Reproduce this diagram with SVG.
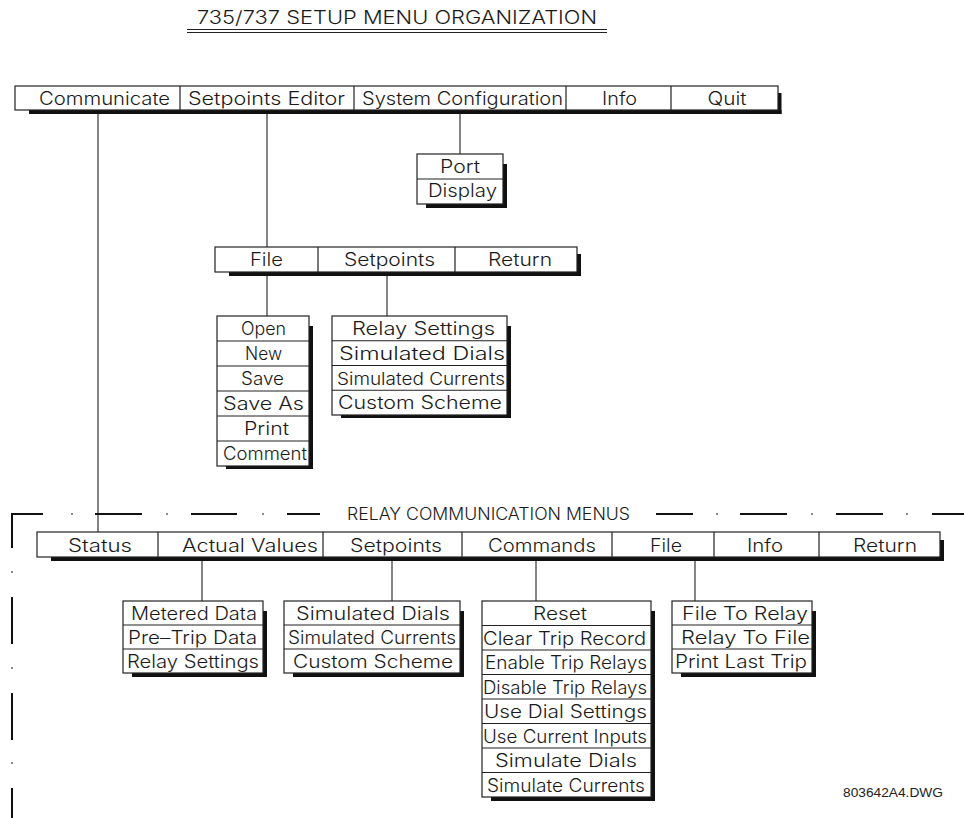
<svg xmlns="http://www.w3.org/2000/svg" width="964" height="818" viewBox="0 0 964 818">
<style>
.bx{fill:#fff;stroke:#222;stroke-width:1.2}
.dv{stroke:#222;stroke-width:1.2;fill:none}
.sh{fill:#111}
.cn{stroke:#333;stroke-width:1.2;fill:none}
.fr{stroke:#111;stroke-width:2;fill:none}
.t{font-family:Inter,"DejaVu Sans",sans-serif;font-weight:300;font-size:18px;fill:#1a1a1a;text-anchor:middle}
.ti{font-family:Inter,"DejaVu Sans",sans-serif;font-weight:300;font-size:18px;fill:#1a1a1a}
.sm{font-family:"Liberation Sans",Arial,sans-serif;font-size:12px;fill:#222}
</style>
<rect width="964" height="818" fill="#fff"/>
<g id="title">
<text class="ti" x="197" y="24" textLength="400" lengthAdjust="spacingAndGlyphs">735/737 SETUP MENU ORGANIZATION</text>
<line class="dv" x1="187" y1="29.5" x2="607" y2="29.5"/>
<line class="dv" x1="187" y1="32.5" x2="607" y2="32.5"/>
</g>
<g id="connectors">
<line class="cn" x1="98" y1="110" x2="98" y2="532"/>
<line class="cn" x1="267" y1="110" x2="267" y2="247"/>
<line class="cn" x1="460" y1="110" x2="460" y2="154"/>
<line class="cn" x1="267" y1="272" x2="267" y2="316"/>
<line class="cn" x1="387" y1="272" x2="387" y2="316"/>
<line class="cn" x1="202" y1="557" x2="202" y2="601"/>
<line class="cn" x1="392" y1="557" x2="392" y2="601"/>
<line class="cn" x1="536" y1="557" x2="536" y2="601"/>
<line class="cn" x1="695" y1="557" x2="695" y2="601"/>
</g>
<g id="main-menu">
<rect class="sh" x="778" y="93" width="3.5" height="21"/>
<rect class="sh" x="29" y="110" width="752.5" height="4"/>
<rect class="bx" x="15" y="86" width="763" height="24"/>
<path class="dv" d="M180 86V110M354 86V110M566 86V110M671 86V110"/>
<text class="t" x="104.5" y="105" textLength="131" lengthAdjust="spacingAndGlyphs">Communicate</text>
<text class="t" x="266.5" y="105" textLength="157" lengthAdjust="spacingAndGlyphs">Setpoints Editor</text>
<text class="t" x="462.5" y="105" textLength="201" lengthAdjust="spacingAndGlyphs">System Configuration</text>
<text class="t" x="619.5" y="105" textLength="35" lengthAdjust="spacingAndGlyphs">Info</text>
<text class="t" x="727" y="105" textLength="39" lengthAdjust="spacingAndGlyphs">Quit</text>
</g>
<g id="sysconfig-menu">
<rect class="sh" x="503" y="164" width="4" height="44"/>
<rect class="sh" x="426" y="204" width="81" height="4"/>
<rect class="bx" x="417" y="154" width="86" height="50"/>
<path class="dv" d="M417 179H503"/>
<text class="t" x="460" y="173" textLength="40" lengthAdjust="spacingAndGlyphs">Port</text>
<text class="t" x="462.5" y="197" textLength="69" lengthAdjust="spacingAndGlyphs">Display</text>
</g>
<g id="editor-menu">
<rect class="sh" x="577" y="254" width="4" height="22"/>
<rect class="sh" x="229" y="272" width="352" height="4"/>
<rect class="bx" x="215" y="247" width="362" height="25"/>
<path class="dv" d="M318 247V272M455 247V272"/>
<text class="t" x="266.5" y="266" textLength="33" lengthAdjust="spacingAndGlyphs">File</text>
<text class="t" x="389.5" y="266" textLength="91" lengthAdjust="spacingAndGlyphs">Setpoints</text>
<text class="t" x="520" y="266" textLength="64" lengthAdjust="spacingAndGlyphs">Return</text>
</g>
<g id="file-menu">
<rect class="sh" x="309" y="326" width="4" height="143"/>
<rect class="sh" x="226" y="466" width="87" height="3"/>
<rect class="bx" x="217" y="316" width="92" height="150"/>
<path class="dv" d="M217 341H309M217 366H309M217 391H309M217 416H309M217 441H309"/>
<text class="t" x="263.5" y="335" textLength="45" lengthAdjust="spacingAndGlyphs">Open</text>
<text class="t" x="263.5" y="360" textLength="37" lengthAdjust="spacingAndGlyphs">New</text>
<text class="t" x="262.5" y="385" textLength="43" lengthAdjust="spacingAndGlyphs">Save</text>
<text class="t" x="263.5" y="410" textLength="81" lengthAdjust="spacingAndGlyphs">Save As</text>
<text class="t" x="266.5" y="435" textLength="45" lengthAdjust="spacingAndGlyphs">Print</text>
<text class="t" x="265" y="460" textLength="84" lengthAdjust="spacingAndGlyphs">Comment</text>
</g>
<g id="setpoints-menu">
<rect class="sh" x="507" y="326" width="4" height="92"/>
<rect class="sh" x="341" y="415" width="170" height="3"/>
<rect class="bx" x="332" y="316" width="175" height="99"/>
<path class="dv" d="M332 340.75H507M332 365.5H507M332 390.25H507"/>
<text class="t" x="423.5" y="335" textLength="143" lengthAdjust="spacingAndGlyphs">Relay Settings</text>
<text class="t" x="422" y="360" textLength="166" lengthAdjust="spacingAndGlyphs">Simulated Dials</text>
<text class="t" x="421" y="384.5" textLength="168" lengthAdjust="spacingAndGlyphs" style="font-size:17px">Simulated Currents</text>
<text class="t" x="420" y="409" textLength="164" lengthAdjust="spacingAndGlyphs">Custom Scheme</text>
</g>
<g id="relay-frame">
<path class="fr" d="M12 548V514H43M95 514H142M191 514H237M287 514H320M656 514H693M740 514H787M836 514H883M932 514H964M12 597V644M12 693V740M12 788V818"/>
<path class="fr" style="stroke-width:1.5;stroke:#666" d="M71 514H73M166 514H168M262 514H264M716 514H718M811 514H813M906 514H908M12 571V573M12 667V669M12 762V764"/>
<text class="ti" x="347" y="520" textLength="283" lengthAdjust="spacingAndGlyphs" style="font-size:17px">RELAY COMMUNICATION MENUS</text>
</g>
<g id="relay-menu">
<rect class="sh" x="940" y="540" width="4" height="21"/>
<rect class="sh" x="51" y="557" width="893" height="4"/>
<rect class="bx" x="37" y="532" width="903" height="25"/>
<path class="dv" d="M158 532V557M323 532V557M462 532V557M612 532V557M714 532V557M819 532V557"/>
<text class="t" x="100" y="552" textLength="64" lengthAdjust="spacingAndGlyphs">Status</text>
<text class="t" x="250" y="552" textLength="136" lengthAdjust="spacingAndGlyphs">Actual Values</text>
<text class="t" x="396" y="552" textLength="92" lengthAdjust="spacingAndGlyphs">Setpoints</text>
<text class="t" x="542" y="552" textLength="108" lengthAdjust="spacingAndGlyphs">Commands</text>
<text class="t" x="666" y="552" textLength="32" lengthAdjust="spacingAndGlyphs">File</text>
<text class="t" x="765" y="552" textLength="36" lengthAdjust="spacingAndGlyphs">Info</text>
<text class="t" x="885" y="552" textLength="64" lengthAdjust="spacingAndGlyphs">Return</text>
</g>
<g id="actual-values-menu">
<rect class="sh" x="263" y="611" width="4" height="66"/>
<rect class="sh" x="132" y="673" width="135" height="4"/>
<rect class="bx" x="123" y="601" width="140" height="72"/>
<path class="dv" d="M123 625H263M123 649H263"/>
<text class="t" x="194" y="620" textLength="126" lengthAdjust="spacingAndGlyphs">Metered Data</text>
<text class="t" x="192.5" y="644" textLength="129" lengthAdjust="spacingAndGlyphs">Pre–Trip Data</text>
<text class="t" x="193" y="668" textLength="132" lengthAdjust="spacingAndGlyphs">Relay Settings</text>
</g>
<g id="relay-setpoints-menu">
<rect class="sh" x="460" y="611" width="4" height="66"/>
<rect class="sh" x="293" y="673" width="171" height="4"/>
<rect class="bx" x="284" y="601" width="176" height="72"/>
<path class="dv" d="M284 625H460M284 649H460"/>
<text class="t" x="373" y="620" textLength="154" lengthAdjust="spacingAndGlyphs">Simulated Dials</text>
<text class="t" x="372" y="644" textLength="168" lengthAdjust="spacingAndGlyphs">Simulated Currents</text>
<text class="t" x="373" y="668" textLength="160" lengthAdjust="spacingAndGlyphs">Custom Scheme</text>
</g>
<g id="commands-menu">
<rect class="sh" x="651" y="611" width="4" height="190"/>
<rect class="sh" x="491" y="797" width="164" height="4"/>
<rect class="bx" x="482" y="601" width="169" height="196"/>
<path class="dv" d="M482 625.5H651M482 650H651M482 674.5H651M482 699H651M482 723.5H651M482 748H651M482 772.5H651"/>
<text class="t" x="560" y="620" textLength="54" lengthAdjust="spacingAndGlyphs">Reset</text>
<text class="t" x="564.5" y="645" textLength="163" lengthAdjust="spacingAndGlyphs">Clear Trip Record</text>
<text class="t" x="566" y="669" textLength="162" lengthAdjust="spacingAndGlyphs">Enable Trip Relays</text>
<text class="t" x="565" y="694" textLength="164" lengthAdjust="spacingAndGlyphs">Disable Trip Relays</text>
<text class="t" x="565.5" y="718" textLength="163" lengthAdjust="spacingAndGlyphs">Use Dial Settings</text>
<text class="t" x="565" y="743" textLength="164" lengthAdjust="spacingAndGlyphs">Use Current Inputs</text>
<text class="t" x="566" y="767" textLength="142" lengthAdjust="spacingAndGlyphs">Simulate Dials</text>
<text class="t" x="566" y="792" textLength="158" lengthAdjust="spacingAndGlyphs">Simulate Currents</text>
</g>
<g id="relay-file-menu">
<rect class="sh" x="812" y="611" width="4" height="66"/>
<rect class="sh" x="681" y="673" width="135" height="4"/>
<rect class="bx" x="672" y="601" width="140" height="72"/>
<path class="dv" d="M672 625H812M672 649H812"/>
<text class="t" x="745" y="620" textLength="126" lengthAdjust="spacingAndGlyphs">File To Relay</text>
<text class="t" x="745.5" y="644" textLength="129" lengthAdjust="spacingAndGlyphs">Relay To File</text>
<text class="t" x="741" y="668" textLength="132" lengthAdjust="spacingAndGlyphs">Print Last Trip</text>
</g>
<g id="drawing-number">
<text class="sm" x="843" y="797" textLength="100" lengthAdjust="spacingAndGlyphs">803642A4.DWG</text>
</g>
</svg>
